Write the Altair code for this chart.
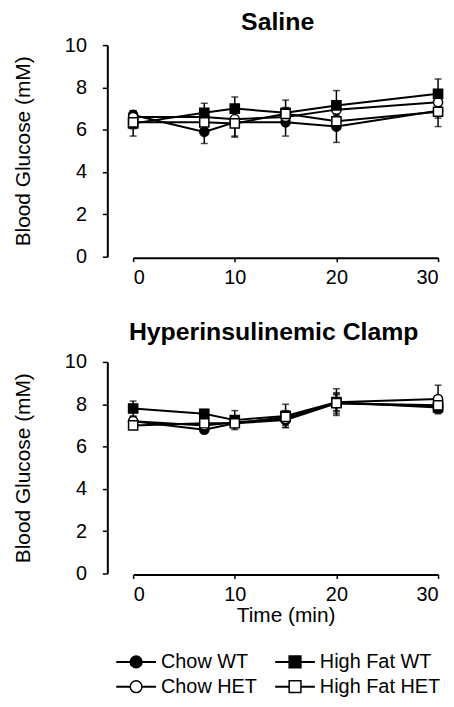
import altair as alt
import pandas as pd

times = [0, 7, 10, 15, 20, 30]
series = ["Chow WT", "Chow HET", "High Fat WT", "High Fat HET"]
shapes = ["circle", "circle", "square", "square"]
fills = ["black", "white", "black", "white"]

# Saline panel (mean, SEM)
sal_chow_wt = [6.7, 5.9, 6.35, 6.35, 6.15, 6.9]
sal_chow_wt_err = [0.2, 0.55, 0.7, 0.65, 0.75, 0.75]
sal_chow_het = [6.6, 6.6, 6.5, 6.6, 6.95, 7.3]
sal_chow_het_err = [0.2, 0.3, 0.3, 0.3, 0.3, 0.3]
sal_hf_wt = [6.3, 6.8, 7.0, 6.8, 7.15, 7.7]
sal_hf_wt_err = [0.6, 0.45, 0.55, 0.6, 0.7, 0.7]
sal_hf_het = [6.35, 6.35, 6.3, 6.75, 6.4, 6.85]
sal_hf_het_err = [0.3, 0.3, 0.6, 0.3, 0.3, 0.3]

# Hyperinsulinemic clamp panel (mean, SEM)
clp_chow_wt = [7.2, 6.8, 7.1, 7.25, 8.05, 7.9]
clp_chow_wt_err = [0.2, 0.15, 0.2, 0.35, 0.5, 0.3]
clp_chow_het = [7.2, 7.0, 7.15, 7.3, 8.1, 8.25]
clp_chow_het_err = [0.2, 0.2, 0.2, 0.3, 0.4, 0.65]
clp_hf_wt = [7.8, 7.55, 7.25, 7.45, 8.1, 7.85]
clp_hf_wt_err = [0.35, 0.2, 0.45, 0.55, 0.63, 0.3]
clp_hf_het = [7.0, 7.1, 7.1, 7.4, 8.05, 7.95]
clp_hf_het_err = [0.15, 0.2, 0.2, 0.3, 0.4, 0.3]

y_ticks = [0, 2, 4, 6, 8, 10]
x_ticks = [0, 10, 20, 30]

FONT = "Liberation Sans"


def make_df(vals, errs):
    rows = []
    for s, v, e in zip(series, vals, errs):
        for t, vi, ei in zip(times, v, e):
            rows.append({"series": s, "time": t, "value": vi, "lo": vi - ei, "hi": vi + ei})
    return pd.DataFrame(rows)


df_sal = make_df([sal_chow_wt, sal_chow_het, sal_hf_wt, sal_hf_het],
                 [sal_chow_wt_err, sal_chow_het_err, sal_hf_wt_err, sal_hf_het_err])
df_clp = make_df([clp_chow_wt, clp_chow_het, clp_hf_wt, clp_hf_het],
                 [clp_chow_wt_err, clp_chow_het_err, clp_hf_wt_err, clp_hf_het_err])

shape_scale = alt.Scale(domain=series, range=shapes)
fill_scale = alt.Scale(domain=series, range=fills)


def panel(df, title, xtitle, tdx, toff):
    xaxis_kw = dict(values=x_ticks, offset=1, labelPadding=6, tickSize=4, title=xtitle, titlePadding=0)
    x = alt.X("time:Q", scale=alt.Scale(domain=[0, 30], nice=False), axis=alt.Axis(**xaxis_kw))
    y = alt.Y("value:Q", scale=alt.Scale(domain=[0, 10], nice=False),
              axis=alt.Axis(values=y_ticks, offset=26, title="Blood Glucose (mM)", labelPadding=16,
                            tickSize=5, titlePadding=31))
    base = alt.Chart(df)
    err = base.mark_rule(color="black", strokeWidth=1.5).encode(x=x, y="lo:Q", y2="hi:Q")
    cap_lo = base.mark_tick(orient="horizontal", color="black", size=7, thickness=1.5).encode(x=x, y="lo:Q")
    cap_hi = base.mark_tick(orient="horizontal", color="black", size=7, thickness=1.5).encode(x=x, y="hi:Q")
    line = base.mark_line(color="black", strokeWidth=2).encode(x=x, y=y, detail="series:N")
    pts = base.mark_point(filled=True, size=85, stroke="black", strokeWidth=1.5, opacity=1).encode(
        x=x, y=y,
        shape=alt.Shape("series:N", scale=shape_scale, legend=None),
        fill=alt.Fill("series:N", scale=fill_scale, legend=None),
    )
    return alt.layer(err, cap_lo, cap_hi, line, pts).properties(
        width=307, height=213,
        title=alt.TitleParams(title, font=FONT, fontSize=25, fontWeight="bold", color="black",
                              offset=toff, dx=tdx),
    )


top = panel(df_sal, "Saline", None, -8, 0)
bottom = panel(df_clp, "Hyperinsulinemic Clamp", "Time (min)", -12, 7)

leg_col = [0, 0, 1, 1]
leg_row = [0, 1, 0, 1]
leg_df = pd.DataFrame({"series": series, "col": leg_col, "row": leg_row})
lx = alt.X("col:Q", scale=alt.Scale(domain=[0, 1], range=[3, 163]), axis=None)
ly = alt.Y("row:Q", scale=alt.Scale(domain=[0, 1], range=[0, 25]), axis=None)
lbase = alt.Chart(leg_df)
lrule = lbase.mark_rule(color="black", strokeWidth=2, xOffset=-20, x2Offset=20).encode(
    x=lx, x2="col:Q", y=ly)
lpts = lbase.mark_point(filled=True, size=140, stroke="black", strokeWidth=1.5, opacity=1).encode(
    x=lx, y=ly,
    shape=alt.Shape("series:N", scale=shape_scale, legend=None),
    fill=alt.Fill("series:N", scale=fill_scale, legend=None),
)
ltext = lbase.mark_text(align="left", baseline="middle", dx=25, font=FONT, fontSize=20, color="black").encode(
    x=lx, y=ly, text="series:N")
legend = alt.layer(lrule, lpts, ltext).properties(width=307, height=25)

panels = alt.vconcat(top, bottom, spacing=33)
chart = alt.vconcat(panels, legend, spacing=27).properties(
    padding={"left": 4, "top": 0, "right": 0, "bottom": 0}
).configure_view(
    stroke=None
).configure_axis(
    grid=False, domainColor="black", domainWidth=2, tickColor="black", tickWidth=1.5,
    labelFont=FONT, labelFontSize=20, labelColor="black",
    titleFont=FONT, titleFontSize=21, titleFontWeight="normal", titleColor="black",
)

chart.save("out.html", embed_options={"renderer": "svg", "actions": False})
